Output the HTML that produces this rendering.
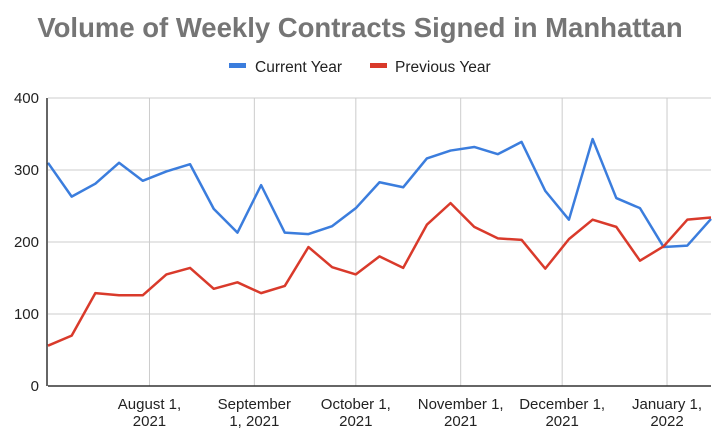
<!DOCTYPE html>
<html><head><meta charset="utf-8"><style>
body{margin:0;background:#fff;}
svg{display:block;font-family:"Liberation Sans",Arial,sans-serif;}
</style></head><body>
<svg id="chart" width="720" height="440">
<text x="360" y="37" text-anchor="middle" font-size="27.5" font-weight="bold" fill="#757575">Volume of Weekly Contracts Signed in Manhattan</text>
<g>
<g><rect x="229" y="63" width="17" height="5" fill="#3b7ddd"/><text x="255" y="72" font-size="15.5" fill="#222">Current Year</text></g>
<g><rect x="370" y="63" width="17" height="5" fill="#d93a2b"/><text x="395" y="72" font-size="15.5" fill="#222">Previous Year</text></g>
</g>
<g id="grid"></g><g id="series"></g><g id="axes"></g>
</svg>
<script>
const daysPerWeek = 7;
const currentYear = [310,263,281,310,285,298,308,246,213,279,213,211,222,247,283,276,316,327,332,322,339,271,231,343,261,247,193,195,232];
const previousYear = [56,70,129,126,126,155,164,135,144,129,139,193,165,155,180,164,224,254,221,205,203,163,204,231,221,174,194,231,234];
const yTicks = [0,100,200,300,400];
const xTickDays = [30,61,91,122,152,183];
const xTickLabels = [["August 1,","2021"],["September","1, 2021"],["October 1,","2021"],["November 1,","2021"],["December 1,","2021"],["January 1,","2022"]];
const NS="http://www.w3.org/2000/svg";
const L=48,R=711,T=98,B=386,maxDay=196;
const xs=d=>L+d*(R-L)/maxDay, ys=v=>B-v*(B-T)/400;
function mk(t,a,p){const e=document.createElementNS(NS,t);for(const k in a)e.setAttribute(k,a[k]);p.appendChild(e);return e;}
const grid=document.getElementById('grid'),axes=document.getElementById('axes'),ser=document.getElementById('series');
yTicks.forEach(v=>{
 const ln=mk('line',{x1:L,x2:R,y1:ys(v),y2:ys(v),stroke:v===0?'#333':'#ccc','stroke-width':v===0?1.5:1},v===0?axes:grid);
 
 
 const t=mk('text',{x:39,y:ys(v)+5,'text-anchor':'end','font-size':15,fill:'#222'},axes);
 t.textContent=v;
 
 
});
const yax=mk('line',{x1:L-1,x2:L-1,y1:T,y2:B,stroke:'#333','stroke-width':1.5},axes);


xTickDays.forEach((d,i)=>{
 const ln=mk('line',{x1:xs(d),x2:xs(d),y1:T,y2:B,stroke:'#ccc','stroke-width':1},grid);
 
 
 const t=mk('text',{x:xs(d),y:409,'text-anchor':'middle','font-size':15,fill:'#222'},axes);
 
 
 xTickLabels[i].forEach((s,j)=>{const ts=mk('tspan',{x:xs(d),dy:j?17:0},t);ts.textContent=s;});
});
function line(vals,color,name){
 const pts=vals.map((v,i)=>xs(i*daysPerWeek)+','+ys(v)).join(' ');
 const p=mk('polyline',{points:pts,fill:'none',stroke:color,'stroke-width':2.5,'stroke-linejoin':'round'},ser);
 
 
}
line(currentYear,'#3b7ddd','current-year-line');
line(previousYear,'#d93a2b','previous-year-line');
</script>
</body></html>
